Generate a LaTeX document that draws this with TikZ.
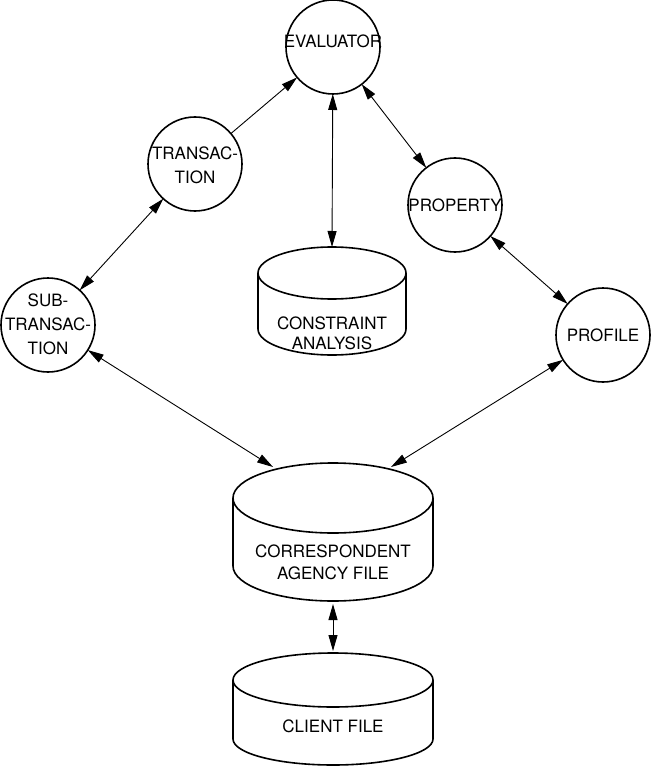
\documentclass[tikz,border=0pt]{standalone}
\usepackage{fontspec}
\setmainfont{TeX Gyre Heros}
\usetikzlibrary{arrows.meta,shapes.geometric,calc}
\begin{document}
\begin{tikzpicture}[x=1pt,y=-1pt,
  lbl/.style={align=center,inner sep=0pt,font=\fontsize{17}{24}\selectfont},
  proc/.style={circle,draw,line width=1.6pt,minimum size=94pt,inner sep=0pt,outer sep=0pt},
  drumtop/.style={ellipse,draw,line width=1.6pt,inner sep=0pt,outer sep=0pt},
  drum/.style={line width=1.6pt},
  link/.style={line width=0.9pt,{Triangle[length=16pt,width=9pt]}-{Triangle[length=16pt,width=9pt]}},
  onelink/.style={line width=0.9pt,-{Triangle[length=16pt,width=9pt]}}
]
\useasboundingbox (0,0) rectangle (654,767);

% processes
\node[proc] (eval)  at (333,47)  {};
\node[lbl]  (evaltext) at (333,41) {EVALUATOR};
\node[proc] (trans) at (195,164) {};
\node[lbl]  (transtext) at (195,165) {TRANSAC-\\TION};
\node[proc] (prop)  at (455,205) {};
\node[lbl]  (proptext) at (455,205) {PROPERTY};
\node[proc] (sub)   at (48,325)  {};
\node[lbl]  (subtext) at (48,324) {SUB-\\TRANSAC-\\TION};
\node[proc] (prof)  at (603,335) {};
\node[lbl]  (proftext) at (603,335) {PROFILE};

% data stores
\node[drumtop,minimum width=148pt,minimum height=52pt] (ca) at (332,273) {};
\draw[drum] (ca.west) -- ++(0,56)
  arc[start angle=180,end angle=360,x radius=74pt,y radius=26pt] -- (ca.east);
\node[lbl,font=\fontsize{17}{20}\selectfont] (catext) at (332,333) {CONSTRAINT\\ANALYSIS};

\node[drumtop,minimum width=200pt,minimum height=70pt] (caf) at (333,498) {};
\draw[drum] (caf.west) -- ++(0,68)
  arc[start angle=180,end angle=360,x radius=100pt,y radius=35pt] -- (caf.east);
\node[lbl,font=\fontsize{17}{22}\selectfont] (caftext) at (333,562) {CORRESPONDENT\\AGENCY FILE};

\node[drumtop,minimum width=200pt,minimum height=54pt] (client) at (333,680) {};
\draw[drum] (client.west) -- ++(0,59)
  arc[start angle=180,end angle=360,x radius=100pt,y radius=26pt] -- (client.east);
\node[lbl] (clienttext) at (333,726) {CLIENT FILE};

% connector end points on the store outlines
\coordinate (cafl) at ($(caf.center)+(-60,-31)$);
\coordinate (cafr) at ($(caf.center)+(58,-31)$);
\coordinate (cafbase) at ($(caf.south)+(0,69)$);

% connectors
\draw[onelink] (trans) -- (eval);
\draw[link] (eval) -- (ca.north);
\draw[link] (eval) -- (prop);
\draw[link] (trans) -- (sub);
\draw[link] (prop) -- (prof);
\draw[link] (sub) -- (cafl);
\draw[link] (prof) -- (cafr);
\draw[link,shorten <=2pt,shorten >=2pt] (cafbase) -- (client.north);
\end{tikzpicture}
\end{document}
